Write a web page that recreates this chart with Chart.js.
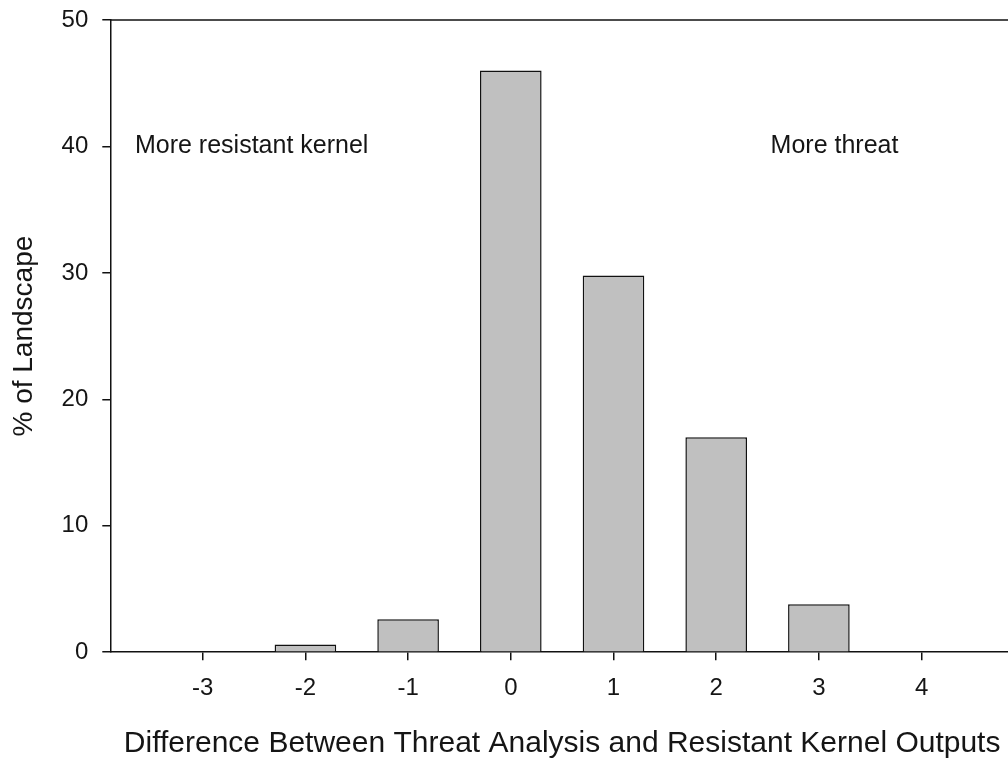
<!DOCTYPE html>
<html>
<head>
<meta charset="utf-8">
<script src="https://cdn.jsdelivr.net/npm/chart.js@4.4.0/dist/chart.umd.min.js"></script>
<style>
  html, body { margin: 0; padding: 0; background: #fff; overflow: hidden; }
  #wrap { width: 1016px; height: 758px; }
</style>
</head>
<body>
<div id="wrap"><canvas id="histChart" width="1016" height="758"></canvas></div>
<script>
const differences = [-3, -2, -1, 0, 1, 2, 3, 4];
const landscapePct = [0, 0.6, 2.6, 46, 29.8, 17, 3.8, 0];
const xTicks = [-3, -2, -1, 0, 1, 2, 3, 4];
const yTicks = [0, 10, 20, 30, 40, 50];
const notes = ["More resistant kernel", "More threat"];
const noteX = [-3.66, 2.53];
const noteY = [40, 40];

const fontFamily = "'Liberation Sans', Arial, sans-serif";

// text labels inside the plot and the top frame line
const notesPlugin = {
    id: "notes",
    afterDatasetsDraw(chart) {
        const ctx = chart.ctx;
        const xs = chart.scales.x;
        const ys = chart.scales.y;
        ctx.save();
        ctx.strokeStyle = "#111";
        ctx.lineWidth = 1.5;
        ctx.beginPath();
        const top = ys.getPixelForValue(ys.max);
        ctx.moveTo(chart.chartArea.left, top);
        ctx.lineTo(chart.chartArea.right, top);
        ctx.stroke();

        ctx.font = "25px " + fontFamily;
        ctx.fillStyle = "#151515";
        ctx.textAlign = "left";
        ctx.textBaseline = "middle";
        notes.forEach((txt, i) => {
            ctx.fillText(txt, xs.getPixelForValue(noteX[i]), ys.getPixelForValue(noteY[i]));
        });
        ctx.restore();
    },
};

const canvas = document.querySelector("#histChart");
new Chart(canvas, {
    type: "bar",
    data: {
        datasets: [
            {
                label: "% of Landscape",
                data: differences.map((d, i) => ({ x: d, y: landscapePct[i] })),
                backgroundColor: "#c0c0c0",
                borderColor: "#111",
                borderWidth: 1.5,
                borderSkipped: "start",
                barPercentage: 0.6,
                categoryPercentage: 1,
            },
        ],
    },
    options: {
        responsive: false,
        animation: false,
        layout: { padding: { top: 0, right: 2, bottom: 0, left: 7 } },
        plugins: {
            legend: { display: false },
            tooltip: { enabled: false },
        },
        scales: {
            x: {
                type: "linear",
                min: -3.9,
                max: 4.9,
                offset: false,
                afterBuildTicks: (s) => { s.ticks = xTicks.map((v) => ({ value: v })); },
                grid: { offset: false, drawOnChartArea: false, color: "#111", tickLength: 8, lineWidth: 1.5 },
                border: { color: "#111", width: 1.5 },
                ticks: { color: "#151515", font: { family: fontFamily, size: 24 }, padding: 14 },
                title: {
                    display: true,
                    text: "Difference Between Threat Analysis and Resistant Kernel Outputs",
                    color: "#151515",
                    font: { family: fontFamily, size: 30 },
                    padding: { top: 9, bottom: -4 },
                },
            },
            y: {
                min: 0,
                max: 50,
                afterBuildTicks: (s) => { s.ticks = yTicks.map((v) => ({ value: v })); },
                // keep the plot top close to the canvas edge
                afterFit: (s) => { s.paddingTop = 20; },
                grid: { drawOnChartArea: false, color: "#111", tickLength: 8, lineWidth: 1.5 },
                border: { color: "#111", width: 1.5 },
                ticks: { color: "#151515", font: { family: fontFamily, size: 24 }, padding: 14 },
                title: {
                    display: true,
                    text: "% of Landscape",
                    color: "#151515",
                    font: { family: fontFamily, size: 28 },
                    padding: { top: 0, bottom: 7 },
                },
            },
        },
    },
    plugins: [notesPlugin],
});
</script>
</body>
</html>
